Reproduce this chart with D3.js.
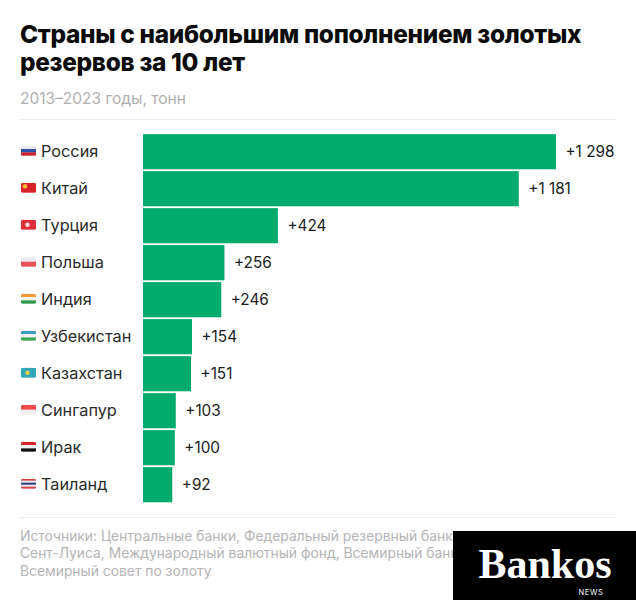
<!DOCTYPE html>
<html lang="ru">
<head>
    <meta charset="UTF-8">
    <title>Страны с наибольшим пополнением золотых резервов за 10 лет</title>
    <script src="https://d3js.org/d3.v7.min.js"></script>
    <style>
        body, html {
            margin: 0;
            background: #fff;
        }
        svg {
            display: block;
            font-family: 'Inter', sans-serif;
        }
        .title { font-size: 24.4px; font-weight: 800; fill: #0b0b0b; letter-spacing: -0.3px; }
        .sub { font-size: 15.5px; fill: #b0b0b0; }
        .name { font-size: 16.3px; fill: #2a2a2a; }
        .value { font-size: 15.3px; fill: #1c1c1c; }
        .note { font-size: 13.85px; fill: #b4b4b4; }
        .rule { stroke: #ececec; stroke-width: 1; }
    </style>
</head>
<body>
<script>
    const countries = ["Россия", "Китай", "Турция", "Польша", "Индия", "Узбекистан", "Казахстан", "Сингапур", "Ирак", "Таиланд"];
    const values = [1298, 1181, 424, 256, 246, 154, 151, 103, 100, 92];
    const valueLabels = ["+1 298", "+1 181", "+424", "+256", "+246", "+154", "+151", "+103", "+100", "+92"];
    // horizontal stripes of each flag, top to bottom
    const flags = [
        ["#e8e8f0", "#2b4fa8", "#d0202c"],
        ["#d8232a"],
        ["#dc2f3a"],
        ["#ececec", "#e8505a"],
        ["#f09a3a", "#f2f2ea", "#2f9a4a"],
        ["#3a9ac0", "#f2f2f2", "#3fa85a"],
        ["#30a8b8"],
        ["#ee4a50", "#f0eeee"],
        ["#d8232a", "#eeeeee", "#111111"],
        ["#d8434a", "#e8e8ee", "#2a3a7a", "#e8e8ee", "#d8434a"]
    ];
    // colour of the small emblem in the middle of a flag, if it has one
    const emblems = [null, "#f2c230", "#f6dede", null, null, null, "#e8d040", null, null, null];
    const titleLines = ["Страны с наибольшим пополнением золотых", "резервов за 10 лет"];
    const subtitle = "2013–2023 годы, тонн";
    const noteLines = [
        "Источники: Центральные банки, Федеральный резервный банк",
        "Сент-Луиса, Международный валютный фонд, Всемирный банк,",
        "Всемирный совет по золоту"
    ];

    const width = 636, height = 600;
    const svg = d3.select("body").append("svg")
        .attr("width", width)
        .attr("height", height);

    svg.append("clipPath").attr("id", "flag-clip")
        .append("rect")
        .attr("width", 15).attr("height", 10).attr("rx", 1.5);

    svg.selectAll(".title")
        .data(titleLines)
        .join("text")
        .attr("class", "title")
        .attr("x", 20)
        .attr("y", (d, i) => 43 + i * 28)
        .text(d => d);

    svg.append("text")
        .attr("class", "sub")
        .attr("x", 20)
        .attr("y", 104)
        .text(subtitle);

    svg.append("line").attr("class", "rule")
        .attr("x1", 20).attr("x2", 616)
        .attr("y1", 119.5).attr("y2", 119.5);

    const x = d3.scaleLinear().domain([0, 1298]).range([143, 556]);
    const y = d3.scaleBand().domain(countries).range([133.2, 503.2]).paddingInner(0.05).paddingOuter(0.025);

    svg.selectAll(".bar")
        .data(countries)
        .join("rect")
        .attr("class", "bar")
        .attr("x", x(0))
        .attr("y", d => y(d))
        .attr("width", (d, i) => x(values[i]) - x(0))
        .attr("height", y.bandwidth())
        .attr("fill", "#00ab6c");

    svg.selectAll(".value")
        .data(countries)
        .join("text")
        .attr("class", "value")
        .attr("x", (d, i) => x(values[i]) + 9.5)
        .attr("y", d => y(d) + y.bandwidth() / 2 + 5)
        .text((d, i) => valueLabels[i]);

    svg.selectAll(".name")
        .data(countries)
        .join("text")
        .attr("class", "name")
        .attr("x", 41)
        .attr("y", d => y(d) + y.bandwidth() / 2 + 5)
        .text(d => d);

    const flag = svg.selectAll(".flag")
        .data(countries)
        .join("g")
        .attr("class", "flag")
        .attr("clip-path", "url(#flag-clip)")
        .attr("transform", d => `translate(21,${y(d) + y.bandwidth() / 2 - 6})`);

    flag.each(function(d, i) {
        const h = 10 / flags[i].length;
        d3.select(this).selectAll("rect")
            .data(flags[i])
            .join("rect")
            .attr("width", 15)
            .attr("y", (c, j) => j * h)
            .attr("height", h + 0.2)
            .attr("fill", c => c);
        if (emblems[i]) {
            d3.select(this).append("circle")
                .attr("cx", i === 1 ? 4 : 6.5)
                .attr("cy", i === 1 ? 3.5 : 5)
                .attr("r", 2.2)
                .attr("fill", emblems[i]);
        }
    });

    svg.append("line").attr("class", "rule")
        .attr("x1", 20).attr("x2", 616)
        .attr("y1", 517.5).attr("y2", 517.5);

    svg.selectAll(".note")
        .data(noteLines)
        .join("text")
        .attr("class", "note")
        .attr("x", 20)
        .attr("y", (d, i) => 541 + i * 17.3)
        .text(d => d);

    // watermark box on top of the footer
    svg.append("rect")
        .attr("x", 453).attr("y", 531)
        .attr("width", 183).attr("height", 69)
        .attr("fill", "#000");
    svg.append("text")
        .attr("x", 545).attr("y", 578)
        .attr("text-anchor", "middle")
        .attr("fill", "#fff")
        .style("font-family", "'Liberation Serif', serif")
        .style("font-weight", 700)
        .style("font-size", "42px")
        .text("Bankos");
    svg.append("text")
        .attr("x", 591).attr("y", 595)
        .attr("text-anchor", "middle")
        .attr("fill", "#fff")
        .style("font-size", "7.5px")
        .style("letter-spacing", "0.6px")
        .text("NEWS");
</script>
</body>
</html>
